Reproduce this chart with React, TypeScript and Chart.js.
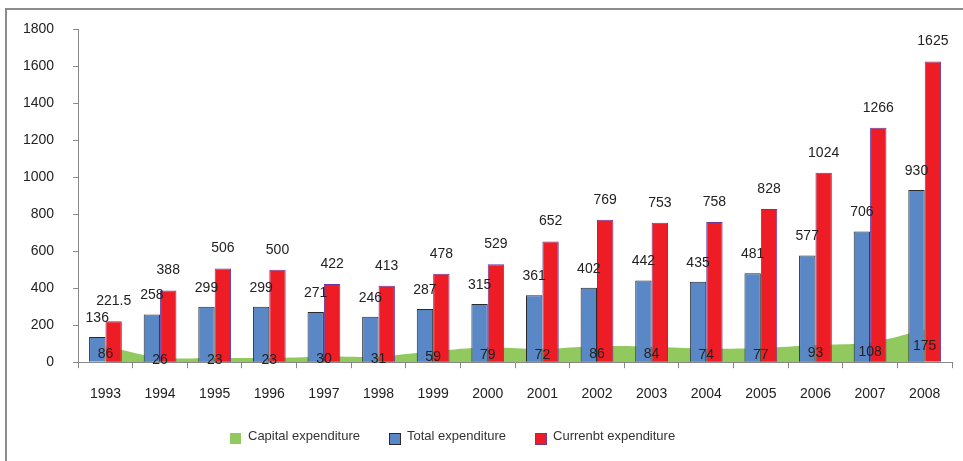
import React, { useEffect, useRef } from "react";
import { Chart, registerables } from "chart.js";

Chart.register(...registerables);

const years = ["1993","1994","1995","1996","1997","1998","1999","2000","2001","2002","2003","2004","2005","2006","2007","2008"];
const capital = [86, 26, 23, 23, 30, 31, 59, 79, 72, 86, 84, 74, 77, 93, 108, 175];
const total = [136, 258, 299, 299, 271, 246, 287, 315, 361, 402, 442, 435, 481, 577, 706, 930];
const current = [221.5, 388, 506, 500, 422, 413, 478, 529, 652, 769, 753, 758, 828, 1024, 1266, 1625];
const currentLabels = ["221.5","388","506","500","422","413","478","529","652","769","753","758","828","1024","1266","1625"];
const legendNames = ["Capital expenditure", "Total expenditure", "Currenbt expenditure"];

const FONT = "'Liberation Sans', Arial, sans-serif";

const labelPlugin = {
  id: "valueLabels",
  afterDatasetsDraw(chart: any) {
    const ctx = chart.ctx;
    ctx.save();
    ctx.font = `14px ${FONT}`;
    ctx.fillStyle = "#222";
    ctx.textAlign = "center";
    ctx.textBaseline = "middle";
    const yScale = chart.scales.y;
    const xScale = chart.scales.x;
    capital.forEach((v, i) => {
      const x = xScale.getPixelForValue(i);
      const y = yScale.getPixelForValue(v / 2);
      ctx.fillText(String(v), x, y);
    });
    const mTotal = chart.getDatasetMeta(1);
    mTotal.data.forEach((el: any, i: number) => {
      ctx.fillText(String(total[i]), el.x, el.y - 19);
    });
    const mCur = chart.getDatasetMeta(2);
    mCur.data.forEach((el: any, i: number) => {
      ctx.fillText(currentLabels[i], el.x, el.y - 20);
    });
    ctx.restore();
  },
};

const legendPlugin = {
  id: "customLegend",
  afterDraw(chart: any) {
    const ctx = chart.ctx;
    ctx.save();
    ctx.font = `13px ${FONT}`;
    ctx.textBaseline = "middle";
    ctx.textAlign = "left";
    const ds = chart.data.datasets;
    let x = 230;
    const yBox = chart.height - 28;
    legendNames.forEach((name, i) => {
      const d = ds[i];
      ctx.fillStyle = d.backgroundColor;
      ctx.fillRect(x, yBox, 11, 11);
      if (i > 0) {
        ctx.strokeStyle = d.borderColor;
        ctx.lineWidth = 1;
        ctx.strokeRect(x + 0.5, yBox + 0.5, 11, 11);
      }
      ctx.fillStyle = "#333";
      const tx = x + 18;
      ctx.fillText(name, tx, yBox + 3);
      x = tx + ctx.measureText(name).width + 29;
    });
    ctx.restore();
  },
};

export default function App() {
  const ref = useRef<HTMLCanvasElement>(null);
  useEffect(() => {
    const chart = new Chart(ref.current!, {
      type: "bar",
      data: {
        labels: years,
        datasets: [
          {
            type: "line",
            label: legendNames[0],
            data: capital,
            backgroundColor: "#92c95e",
            borderColor: "#92c95e",
            borderWidth: 0,
            fill: "origin",
            tension: 0.4,
            pointRadius: 0,
            order: 5,
          } as any,
          {
            label: legendNames[1],
            data: total,
            backgroundColor: "#5a87c5",
            borderColor: "#2a2a2a",
            borderWidth: 1,
            order: 1,
          },
          {
            label: legendNames[2],
            data: current,
            backgroundColor: "#ee1c25",
            borderColor: "#6a3a9a",
            borderWidth: 1,
            order: 1,
          },
        ],
      },
      options: {
        animation: false,
        responsive: false,
        maintainAspectRatio: false,
        datasets: {
          bar: { categoryPercentage: 0.6, barPercentage: 1 },
        } as any,
        layout: { padding: { left: 4, right: 11, top: 29, bottom: 40 } },
        plugins: {
          tooltip: { enabled: false },
          legend: { display: false },
        },
        scales: {
          x: {
            grid: { display: true, drawOnChartArea: false, offset: true, color: "#888", tickLength: 6 },
            border: { display: true, color: "#888", width: 1 },
            ticks: { font: { family: FONT, size: 14 }, color: "#222", padding: 18, maxRotation: 0 },
          },
          y: {
            min: 0,
            max: 1800,
            grid: { display: true, drawOnChartArea: false, color: "#888", tickLength: 5 },
            border: { display: true, color: "#888", width: 1 },
            ticks: {
              stepSize: 200,
              font: { family: FONT, size: 14 },
              color: "#222",
              padding: 19,
              callback: (v: any) => String(v),
            },
          },
        },
      },
      plugins: [labelPlugin, legendPlugin],
    });
    return () => chart.destroy();
  }, []);
  return (
    <div style={{ position: "absolute", left: 0, top: 0, width: 963, height: 461, background: "#fff" }}>
      <div
        style={{
          position: "absolute",
          left: 5,
          top: 8,
          right: 0,
          bottom: 0,
          borderLeft: "2px solid #8c8c8c",
          borderTop: "2px solid #8c8c8c",
        }}
      />
      <canvas ref={ref} width={963} height={461} style={{ position: "absolute", left: 0, top: 0 }} />
    </div>
  );
}
